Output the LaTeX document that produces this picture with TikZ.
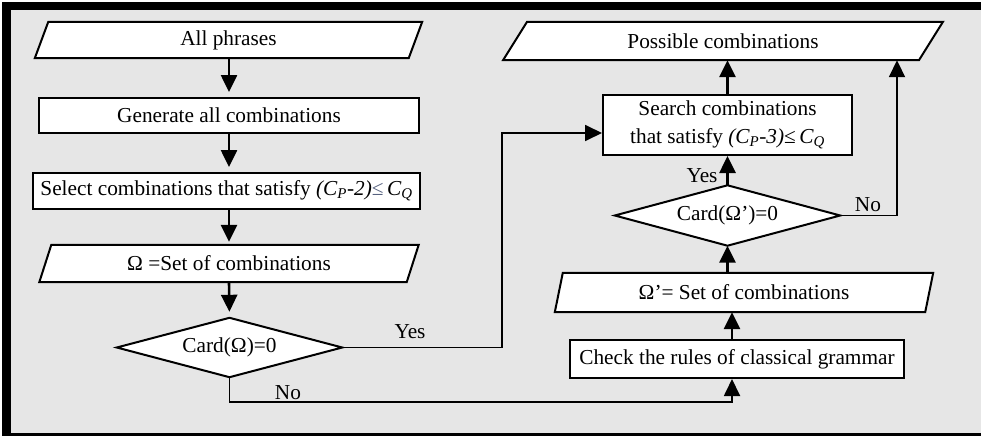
\documentclass[tikz,border=0pt]{standalone}
\usepackage{fontspec}
\setmainfont{Liberation Serif}
\usetikzlibrary{arrows.meta,calc}
\pgfdeclarelayer{framelayer}
\pgfdeclarelayer{shapelayer}
\pgfsetlayers{framelayer,shapelayer,main}
\definecolor{panel}{HTML}{E6E6E6}
\definecolor{leqcol}{HTML}{56617F}

% outline of an input/output parallelogram around a node: #1 node, #2 half slant
\newcommand\ioframe[2]{%
  \draw[shapeline] ([xshift=#2]#1.north west) -- ([xshift=#2]#1.north east)
    -- ([xshift=-#2]#1.south east) -- ([xshift=-#2]#1.south west) -- cycle;}
% outline of a decision diamond spanning a node
\newcommand\decframe[1]{%
  \draw[shapeline] (#1.north) -- (#1.east) -- (#1.south) -- (#1.west) -- cycle;}

\begin{document}
\begin{tikzpicture}[x=1pt,y=-1pt,
  every node/.style={font=\fontsize{21.3}{27.5}\selectfont, inner sep=0pt},
  slot/.style={rectangle, align=center},
  procbox/.style={rectangle, draw, fill=white, line width=2pt, align=center},
  shapeline/.style={draw, fill=white, line width=2pt, line join=miter},
  flow/.style={line width=2.6pt, -{Triangle[length=17pt,width=16pt]}},
  link/.style={line width=1.8pt, -{Triangle[length=17pt,width=16pt]}},
  lbl/.style={rectangle}]

\useasboundingbox (0,0) rectangle (981,436);

% panel with its heavy frame (open on the right)
\begin{pgfonlayer}{framelayer}
  \fill[white] (0,0) rectangle (981,436);
  \fill[black] (2,2) rectangle (981,436);
  \fill[panel] (11,10) rectangle (981,433);
\end{pgfonlayer}

% left column
\node[slot, minimum width=373.5, minimum height=36] (ap) at (228.5,40) {All phrases};
\node[procbox, minimum width=380, minimum height=35] (gen) at (229,115.5) {Generate all combinations};
\node[procbox, minimum width=387, minimum height=36] (sel) at (226.5,191)
  {Select combinations that satisfy {\itshape (C\textsubscript{P}-2)}{\color{leqcol}≤}\,{\itshape C\textsubscript{Q}}};
\node[slot, minimum width=367, minimum height=37] (om) at (229,263.5) {Ω =Set of combinations};
\node[slot, minimum width=225, minimum height=59] (d1) at (229.5,347.5) {Card(Ω)=0};

% right column
\node[slot, minimum width=415.5, minimum height=38] (pc) at (723,41) {Possible combinations};
\node[procbox, minimum width=249, minimum height=60] (se) at (727.5,125)
  {Search combinations\\that satisfy {\itshape (C\textsubscript{P}-3)}≤\,{\itshape C\textsubscript{Q}}};
\node[slot, minimum width=225, minimum height=60] (d2) at (727.5,215.5) {Card(Ω’)=0};
\node[slot, minimum width=370, minimum height=39] (om2) at (744,292.5) {Ω’= Set of combinations};
\node[procbox, minimum width=334, minimum height=38] (chk) at (737,359) {Check the rules of classical grammar};

\begin{pgfonlayer}{shapelayer}
  \ioframe{ap}{6.75}
  \ioframe{om}{6}
  \ioframe{pc}{12}
  \ioframe{om2}{4}
  \decframe{d1}
  \decframe{d2}
\end{pgfonlayer}

% branch labels
\node[lbl] (yes1) at (410,332) {Yes};
\node[lbl] (no1) at (288,393) {No};
\node[lbl] (yes2) at (702,176) {Yes};
\node[lbl] (no2) at (868,205) {No};

% turning points of the connectors
\coordinate (yesturn) at (502,133);
\coordinate (noturn) at (732,402);
\coordinate (noright) at (897,215.5);

% left column flow
\draw[flow, shorten >=5pt] (ap.south -| gen.north) -- (gen.north);
\draw[flow, shorten >=5pt] (gen.south) -- (gen.south |- sel.north);
\draw[flow, shorten >=3pt] (gen.south |- sel.south) -- (gen.south |- om.north);
\draw[flow, shorten >=6pt] (gen.south |- om.south) -- (d1.north);

% decision branches
\draw[link] (d1.east) -| (yesturn) -- (se.west |- yesturn);
\draw[link] (d1.south) |- (noturn) -- (noturn |- chk.south);

% right column flow
\draw[flow] (noturn |- chk.north) -- (noturn |- om2.south);
\draw[flow] (d2.south |- om2.north) -- (d2.south);
\draw[flow] (d2.north) -- (se.south);
\draw[flow] (se.north) -- (se.north |- pc.south);
\draw[link] (d2.east) -- (noright) -- (noright |- pc.south);

\end{tikzpicture}
\end{document}
